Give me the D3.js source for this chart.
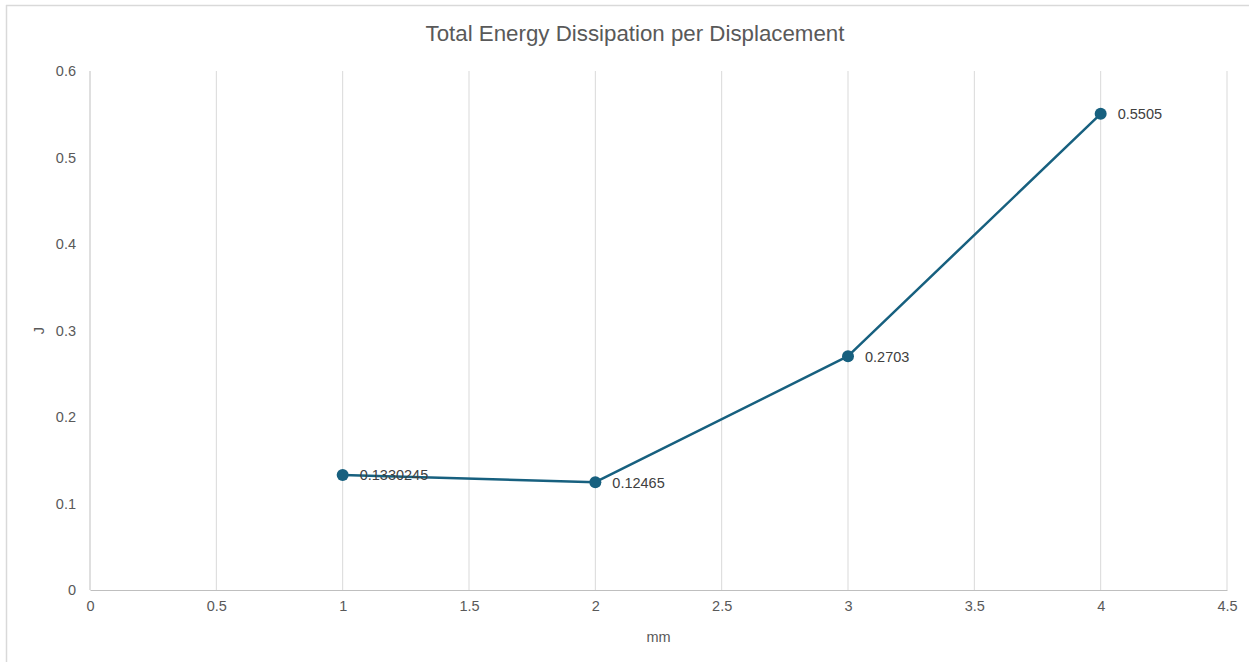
<!DOCTYPE html>
<html>
<head>
<meta charset="utf-8">
<script src="https://cdn.jsdelivr.net/npm/d3@7"></script>
<style>
  html, body { margin: 0; padding: 0; background: #fff; }
  svg { display: block; font-family: "Liberation Sans", Arial, sans-serif; }
</style>
</head>
<body>
<svg id="chart" width="1249" height="662"></svg>
<script>
// Displacement (mm) and total dissipated energy (J)
const displacement = [1, 2, 3, 4];
const energy = [0.1330245, 0.12465, 0.2703, 0.5505];
const pointLabels = ["0.1330245", "0.12465", "0.2703", "0.5505"];
const xTicks = [0, 0.5, 1, 1.5, 2, 2.5, 3, 3.5, 4, 4.5];
const yTicks = [0, 0.1, 0.2, 0.3, 0.4, 0.5, 0.6];

const svg = d3.select("#chart");
const W = 1249, H = 662;
const margin = { left: 90, right: 22, top: 71, bottom: 72 };

const x = d3.scaleLinear().domain([0, 4.5]).range([margin.left, W - margin.right]);
const y = d3.scaleLinear().domain([0, 0.6]).range([H - margin.bottom, margin.top]);

const textColor = "#595959";
const lineColor = "#17607f";
const fontSize = 14.5;

// outer frame
svg.append("line").attr("x1", 6).attr("x2", W).attr("y1", 5.5).attr("y2", 5.5)
  .attr("stroke", "#d9d9d9").attr("stroke-width", 1.5);
svg.append("line").attr("x1", 6.5).attr("x2", 6.5).attr("y1", 5).attr("y2", H)
  .attr("stroke", "#d9d9d9").attr("stroke-width", 1.5);

// title
svg.append("text").attr("x", 635).attr("y", 41).attr("text-anchor", "middle")
  .attr("font-size", 22.3).attr("fill", textColor)
  .text("Total Energy Dissipation per Displacement");

// vertical gridlines
svg.append("g").selectAll("line").data(xTicks).join("line")
  .attr("x1", d => x(d)).attr("x2", d => x(d))
  .attr("y1", y(0.6)).attr("y2", y(0))
  .attr("stroke", d => d === 0 ? "#bfbfbf" : "#d9d9d9").attr("stroke-width", 1);

// x axis
const xAxis = d3.axisBottom(x).tickValues(xTicks).tickSize(0).tickPadding(11)
  .tickFormat(d => d3.format("")(d));
const gx = svg.append("g").attr("transform", `translate(0,${y(0)})`).call(xAxis);
gx.select(".domain").attr("stroke", "#bfbfbf").attr("stroke-width", 1.2);
gx.selectAll("text").attr("fill", textColor).attr("font-size", fontSize)
  .attr("font-family", "Liberation Sans, Arial, sans-serif");

// y axis (labels only)
const yAxis = d3.axisLeft(y).tickValues(yTicks).tickSize(0).tickPadding(14)
  .tickFormat(d => d3.format("")(d));
const gy = svg.append("g").attr("transform", `translate(${x(0)},0)`).call(yAxis);
gy.select(".domain").remove();
gy.selectAll("text").attr("fill", textColor).attr("font-size", fontSize)
  .attr("font-family", "Liberation Sans, Arial, sans-serif");

// axis titles
svg.append("text").attr("x", (x(0) + x(4.5)) / 2).attr("y", 642)
  .attr("text-anchor", "middle").attr("font-size", fontSize).attr("fill", textColor).text("mm");
svg.append("text").attr("transform", `translate(44,${(y(0) + y(0.6)) / 2}) rotate(-90)`)
  .attr("text-anchor", "middle").attr("font-size", fontSize).attr("fill", textColor).text("J");

// series
const pts = displacement.map((d, i) => ({ x: d, y: energy[i], label: pointLabels[i] }));
svg.append("path").datum(pts)
  .attr("d", d3.line().x(d => x(d.x)).y(d => y(d.y)))
  .attr("fill", "none").attr("stroke", lineColor).attr("stroke-width", 2.5)
  .attr("stroke-linejoin", "round");

svg.append("g").selectAll("circle").data(pts).join("circle")
  .attr("cx", d => x(d.x)).attr("cy", d => y(d.y)).attr("r", 6)
  .attr("fill", lineColor);

svg.append("g").selectAll("text").data(pts).join("text")
  .attr("x", d => x(d.x) + 17).attr("y", d => y(d.y) + 5.5)
  .attr("font-size", fontSize).attr("fill", "#404040").text(d => d.label);
</script>
</body>
</html>
